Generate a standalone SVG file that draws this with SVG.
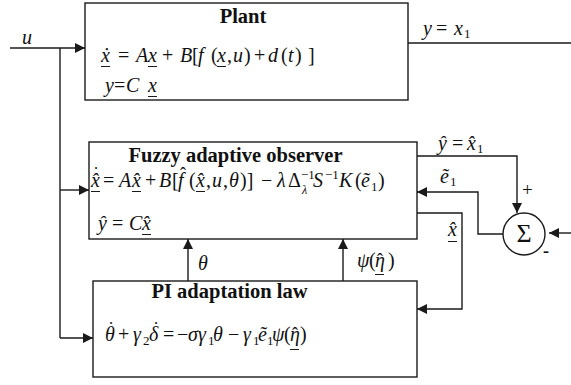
<svg xmlns="http://www.w3.org/2000/svg" width="571" height="385" viewBox="0 0 571 385">
<defs>
<marker id="ah" viewBox="0 0 10 10" refX="10" refY="5" markerWidth="10" markerHeight="10" markerUnits="userSpaceOnUse" orient="auto">
<path d="M0,0 L10,5 L0,10 z" fill="#1a1a1a"/>
</marker>
<style>
.box{fill:#fff;stroke:#1a1a1a;stroke-width:1.4}
.ln{fill:none;stroke:#1a1a1a;stroke-width:1.4}
.ar{fill:none;stroke:#1a1a1a;stroke-width:1.4;marker-end:url(#ah)}
.ul{stroke:#1a1a1a;stroke-width:1}
text{font-family:"Liberation Serif","Times New Roman",serif;fill:#111;font-size:20px}
.t{font-weight:bold;font-size:20.5px;text-anchor:middle}
.m{font-style:italic}
.r{font-style:normal}
.s{font-size:13px;font-style:normal}
.si{font-size:12px;font-style:italic}
.acc{font-style:normal;font-size:18px}
</style>
</defs>

<g id="connectors">
<path class="ar" d="M10,48 H85"/>
<path class="ln" d="M60,48 V338"/>
<path class="ar" d="M60,190 H89"/>
<path class="ar" d="M60,338 H93"/>
<path class="ln" d="M408,43 H571"/>
<path class="ar" d="M188,281 V239"/>
<path class="ar" d="M343,281 V239"/>
<path class="ar" d="M417,156 H517 V213"/>
<path class="ar" d="M503,234 H478 V192 H417"/>
<path class="ar" d="M571,233 H549"/>
<path class="ar" d="M417,213 H462 V309 H417"/>
</g>

<g id="plant">
<rect class="box" x="85" y="3" width="323" height="97"/>
<text class="t" x="243" y="23">Plant</text>
<text class="m" y="62"><tspan x="101">ẋ</tspan><tspan x="118" class="r">=</tspan><tspan x="136">A</tspan><tspan x="148">x</tspan><tspan x="162" class="r">+</tspan><tspan x="180">B</tspan><tspan x="192" class="r">[</tspan><tspan x="198">f</tspan><tspan x="211" class="r">(</tspan><tspan x="217">x</tspan><tspan x="227" class="r">,</tspan><tspan x="233">u</tspan><tspan x="244" class="r">)</tspan><tspan x="254" class="r">+</tspan><tspan x="268">d</tspan><tspan x="281" class="r">(</tspan><tspan x="288">t</tspan><tspan x="295" class="r">)</tspan><tspan x="308" class="r">]</tspan></text>
<text class="m" y="92"><tspan x="105">y</tspan><tspan x="114" class="r">=</tspan><tspan x="126">C</tspan><tspan x="148">x</tspan></text>
<path class="ul" d="M101,66.5 H110 M148,66.5 H157 M217,66.5 H226 M148,96.5 H157"/>
</g>

<g id="observer">
<rect class="box" x="89" y="142" width="328" height="97"/>
<text class="t" x="235.5" y="162">Fuzzy adaptive observer</text>
<text class="m" y="187"><tspan x="91">x̂</tspan><tspan x="103" class="r">=</tspan><tspan x="119">A</tspan><tspan x="132">x̂</tspan><tspan x="145" class="r">+</tspan><tspan x="159">B</tspan><tspan x="172" class="r">[</tspan><tspan x="178">f</tspan><tspan x="189" class="r">(</tspan><tspan x="196">x̂</tspan><tspan x="206" class="r">,</tspan><tspan x="212">u</tspan><tspan x="223" class="r">,</tspan><tspan x="229">θ</tspan><tspan x="240" class="r">)]</tspan><tspan x="261" class="r">−</tspan><tspan x="277">λ</tspan><tspan x="288" class="r">Δ</tspan><tspan x="301" y="179" class="s">−1</tspan><tspan x="302" y="194" class="si">λ</tspan><tspan x="313" y="187">S</tspan><tspan x="325" y="179" class="s">−1</tspan><tspan x="339" y="187">K</tspan><tspan x="355" class="r">(</tspan><tspan x="361">ẽ</tspan><tspan x="371" y="191" class="s">1</tspan><tspan x="378" y="187" class="r">)</tspan></text>
<text class="acc" x="93" y="180">˙</text>
<text class="acc" x="180" y="180">ˆ</text>
<text class="m" y="230"><tspan x="98">ŷ</tspan><tspan x="112" class="r">=</tspan><tspan x="129">C</tspan><tspan x="142">x̂</tspan></text>
<path class="ul" d="M91,191.5 H100 M132,191.5 H141 M196,191.5 H205 M142,234.5 H151"/>
</g>

<g id="pi">
<rect class="box" x="93" y="281" width="324" height="96"/>
<text class="t" x="229.5" y="298">PI adaptation law</text>
<text class="m" y="341"><tspan x="105">θ</tspan><tspan x="118" class="r">+</tspan><tspan x="133">γ</tspan><tspan x="143" y="345" class="s">2</tspan><tspan x="149" y="341">δ</tspan><tspan x="163" class="r">=</tspan><tspan x="177" class="r">−</tspan><tspan x="188">σ</tspan><tspan x="198">γ</tspan><tspan x="208" y="345" class="s">1</tspan><tspan x="213" y="341">θ</tspan><tspan x="228" class="r">−</tspan><tspan x="243">γ</tspan><tspan x="253" y="345" class="s">1</tspan><tspan x="258" y="341">ẽ</tspan><tspan x="267" y="345" class="s">1</tspan><tspan x="272" y="341">ψ</tspan><tspan x="284" class="r">(</tspan><tspan x="290">η</tspan><tspan x="300" class="r">)</tspan></text>
<text class="acc" x="108" y="335">˙</text>
<text class="acc" x="153" y="335">˙</text>
<text class="acc" x="292" y="340">ˆ</text>
<path class="ul" d="M290,349.5 H299"/>
</g>

<g id="sum">
<circle cx="524" cy="234" r="21" fill="#fff" stroke="#1a1a1a" stroke-width="1.4"/>
<text x="524" y="242" text-anchor="middle" style="font-size:26px">Σ</text>
<text x="522" y="196" style="font-size:19px">+</text>
<text x="543" y="257" style="font-size:18px;font-weight:bold">-</text>
</g>

<g id="labels">
<text class="m" x="22" y="44">u</text>
<text class="m" y="35"><tspan x="423">y</tspan><tspan x="436" class="r">=</tspan><tspan x="454">x</tspan><tspan x="464" y="38" class="s">1</tspan></text>
<text class="m" y="150"><tspan x="438">ŷ</tspan><tspan x="452" class="r">=</tspan><tspan x="467">x̂</tspan><tspan x="477" y="153" class="s">1</tspan></text>
<text class="m" y="183"><tspan x="440">ẽ</tspan><tspan x="450" y="186" class="s">1</tspan></text>
<text class="m" x="448" y="236">x̂</text>
<path class="ul" d="M448,241.5 H457"/>
<text class="m" x="198" y="270">θ</text>
<text class="m" y="267"><tspan x="357">ψ</tspan><tspan x="369" class="r">(</tspan><tspan x="375">η</tspan><tspan x="388" class="r">)</tspan></text>
<text class="acc" x="377" y="266">ˆ</text>
<path class="ul" d="M375,274.5 H384"/>
</g>
</svg>
